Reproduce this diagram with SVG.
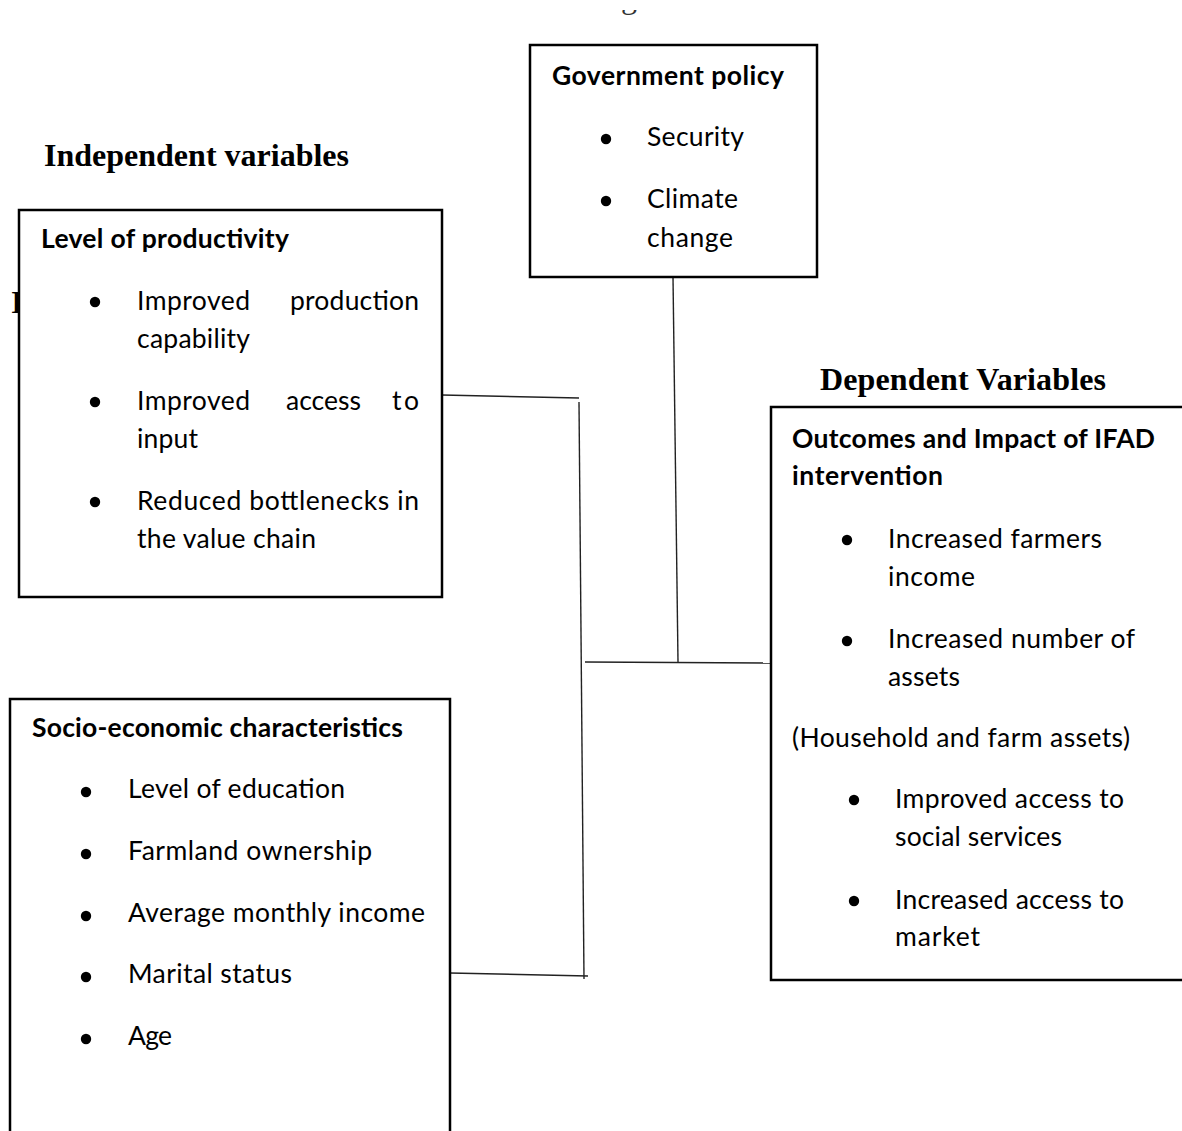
<svg xmlns="http://www.w3.org/2000/svg" width="1182" height="1131" viewBox="0 0 1182 1131">
<style>
.box{fill:#fff;stroke:#000;stroke-width:2.5}
.t{font-family:Lato,"Open Sans","Liberation Sans",sans-serif;font-size:26.5px;fill:#000}
.b{font-weight:bold}
.h{font-family:"Liberation Serif","Times New Roman",serif;font-weight:bold;font-size:32px;fill:#000}
.c{fill:none;stroke:#222;stroke-width:1.4}
.dot{fill:#000}
</style>
<defs>
<clipPath id="topcut"><rect x="600" y="10" width="60" height="20"/></clipPath>
</defs>
<rect width="1182" height="1131" fill="#fff"/>
<text clip-path="url(#topcut)" x="621" y="8" font-family="Liberation Serif, serif" font-size="32" fill="#333">g</text>
<text class="h" x="11" y="313">I</text>
<text class="h" x="44" y="166" textLength="305">Independent variables</text>
<text class="h" x="820" y="390" textLength="286">Dependent Variables</text>

<g id="connectors">
<path class="c" d="M442,395 L579,398"/>
<path class="c" d="M579,402 L584,979"/>
<path class="c" d="M450,973 L588,976"/>
<path class="c" d="M585,662 L775,663"/>
<path class="c" d="M673,277 L678,662"/>
</g>

<g id="government-policy">
<rect class="box" x="530" y="45" width="287" height="232"/>
<text class="t b" x="552" y="85" textLength="232">Government policy</text>
<circle class="dot" cx="606" cy="139" r="5.2"/>
<text class="t" x="647" y="146" textLength="97">Security</text>
<circle class="dot" cx="606" cy="201" r="5.2"/>
<text class="t" x="647" y="208" textLength="91">Climate</text>
<text class="t" x="647" y="247" textLength="86">change</text>
</g>

<g id="level-of-productivity">
<rect class="box" x="19" y="210" width="423" height="387"/>
<text class="t b" x="41" y="248" textLength="248">Level of productivity</text>
<circle class="dot" cx="95" cy="302" r="5.2"/>
<text class="t" x="137" y="310" textLength="113">Improved</text>
<text class="t" x="290" y="310" textLength="129">production</text>
<text class="t" x="137" y="348" textLength="113">capability</text>
<circle class="dot" cx="95" cy="402" r="5.2"/>
<text class="t" x="137" y="410" textLength="113">Improved</text>
<text class="t" x="286" y="410" textLength="75">access</text>
<text class="t" x="392" y="410" textLength="27">to</text>
<text class="t" x="137" y="448" textLength="61">input</text>
<circle class="dot" cx="95" cy="502" r="5.2"/>
<text class="t" x="137" y="510" textLength="282">Reduced bottlenecks in</text>
<text class="t" x="137" y="548" textLength="179">the value chain</text>
</g>

<g id="socio-economic">
<rect class="box" x="10" y="699" width="440" height="450"/>
<text class="t b" x="32" y="737" textLength="371">Socio-economic characteristics</text>
<circle class="dot" cx="86" cy="792" r="5.2"/>
<text class="t" x="128" y="798" textLength="217">Level of education</text>
<circle class="dot" cx="86" cy="854" r="5.2"/>
<text class="t" x="128" y="860" textLength="244">Farmland ownership</text>
<circle class="dot" cx="86" cy="916" r="5.2"/>
<text class="t" x="128" y="922" textLength="297">Average monthly income</text>
<circle class="dot" cx="86" cy="977" r="5.2"/>
<text class="t" x="128" y="983" textLength="164">Marital status</text>
<circle class="dot" cx="86" cy="1039" r="5.2"/>
<text class="t" x="128" y="1045" textLength="44">Age</text>
</g>

<g id="outcomes">
<rect class="box" x="771" y="407" width="430" height="573"/>
<text class="t b" x="792" y="448" textLength="363">Outcomes and Impact of IFAD</text>
<text class="t b" x="792" y="485" textLength="151">intervention</text>
<circle class="dot" cx="847" cy="540" r="5.2"/>
<text class="t" x="888" y="548" textLength="214">Increased farmers</text>
<text class="t" x="888" y="586" textLength="87">income</text>
<circle class="dot" cx="847" cy="641" r="5.2"/>
<text class="t" x="888" y="648" textLength="247">Increased number of</text>
<text class="t" x="888" y="686" textLength="72">assets</text>
<text class="t" x="792" y="747" textLength="338">(Household and farm assets)</text>
<circle class="dot" cx="854" cy="800" r="5.2"/>
<text class="t" x="895" y="808" textLength="229">Improved access to</text>
<text class="t" x="895" y="846" textLength="167">social services</text>
<circle class="dot" cx="854" cy="901" r="5.2"/>
<text class="t" x="895" y="909" textLength="229">Increased access to</text>
<text class="t" x="895" y="946" textLength="85">market</text>
</g>
</svg>
